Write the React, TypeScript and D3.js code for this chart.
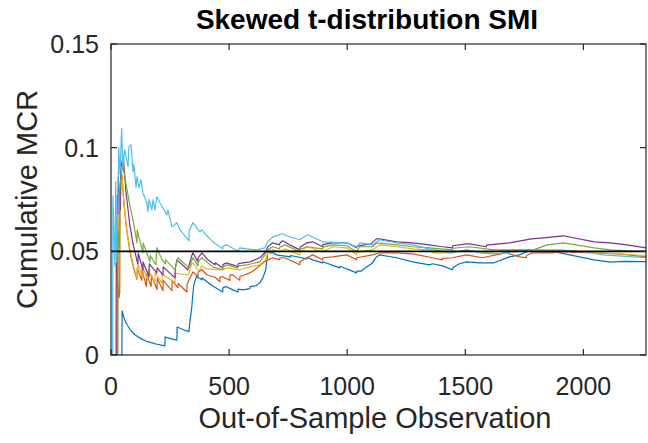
import React from 'react';
import * as d3 from 'd3';

const title = 'Skewed t-distribution SMI';
const xLabel = 'Out-of-Sample Observation';
const yLabel = 'Cumulative MCR';
const xTicks = [0, 500, 1000, 1500, 2000];
const yTicks = [0, 0.05, 0.1, 0.15];
const yTickLabels = ['0', '0.05', '0.1', '0.15'];
const xDomain = [0, 2265];
const yDomain = [0, 0.15];
const targetLevel = 0.05;

const seriesBlue: [number, number][] = [[0,0],[46,0],[47,0.0213],[55,0.0180],[65,0.0152],[80,0.0124],[100,0.0099],[125,0.0080],[150,0.0066],[190,0.0053],[228,0.0044],[229,0.0087],[255,0.0078],[279,0.0072],[280,0.0135],[305,0.0123],[330,0.0113],[333,0.0150],[337,0.0185],[342,0.0230],[347,0.0300],[351,0.0340],[355,0.0355],[364,0.0386],[368,0.0372],[376,0.0370],[385,0.0362],[386,0.0372],[406,0.0353],[431,0.0333],[473,0.0304],[474,0.0325],[486,0.0330],[516,0.0314],[537,0.0304],[538,0.0318],[558,0.0314],[588,0.0320],[589,0.0330],[615,0.0335],[630,0.0348],[643,0.0372],[655,0.0410],[659,0.0450],[664,0.0498],[672,0.0493],[685,0.0493],[700,0.0483],[760,0.0473],[761,0.0480],[829,0.0464],[830,0.0470],[854,0.0459],[896,0.0444],[897,0.0450],[968,0.0420],[969,0.0428],[1040,0.0396],[1041,0.0405],[1060,0.0405],[1082,0.0425],[1107,0.0444],[1124,0.0473],[1137,0.0483],[1209,0.0469],[1277,0.0449],[1348,0.0435],[1361,0.0440],[1403,0.0430],[1446,0.0411],[1447,0.0420],[1460,0.0430],[1475,0.0440],[1505,0.0449],[1560,0.0444],[1619,0.0444],[1687,0.0473],[1729,0.0483],[1750,0.0493],[1780,0.0507],[1830,0.0498],[1873,0.0498],[1911,0.0490],[2046,0.0459],[2114,0.0448],[2173,0.0452],[2265,0.0450]];

const seriesRed: [number, number][] = [[0,0],[21,0],[22,0.0444],[33,0.0290],[34,0.0275],[37,0.0300],[38,0.0700],[42,0.0840],[46,0.0870],[55,0.0730],[65,0.0615],[80,0.0500],[95,0.0420],[110,0.0365],[111,0.0420],[130,0.0360],[131,0.0410],[150,0.0330],[151,0.0390],[170,0.0330],[171,0.0385],[195,0.0315],[196,0.0370],[220,0.0310],[221,0.0360],[258,0.0310],[259,0.0360],[283,0.0325],[285,0.0345],[321,0.0304],[322,0.0340],[330,0.0362],[347,0.0401],[368,0.0377],[369,0.0400],[385,0.0411],[406,0.0386],[440,0.0375],[461,0.0353],[462,0.0377],[473,0.0377],[503,0.0360],[504,0.0386],[516,0.0386],[545,0.0360],[546,0.0380],[566,0.0386],[588,0.0396],[609,0.0411],[643,0.0444],[664,0.0459],[685,0.0469],[714,0.0459],[715,0.0469],[736,0.0469],[799,0.0435],[800,0.0450],[829,0.0469],[854,0.0483],[896,0.0459],[897,0.0469],[938,0.0473],[998,0.0483],[1040,0.0459],[1041,0.0469],[1107,0.0483],[1137,0.0493],[1209,0.0493],[1277,0.0488],[1361,0.0469],[1403,0.0459],[1404,0.0466],[1446,0.0469],[1505,0.0483],[1572,0.0469],[1674,0.0493],[1729,0.0473],[1758,0.0469],[1759,0.0480],[1784,0.0493],[1868,0.0493],[1902,0.0498],[2046,0.0493],[2152,0.0488],[2265,0.0473]];

const seriesYellow: [number, number][] = [[0,0],[28,0],[29,0.0690],[35,0.0570],[40,0.0800],[46,0.0860],[55,0.0730],[65,0.0620],[80,0.0510],[95,0.0430],[110,0.0370],[114,0.0440],[135,0.0370],[136,0.0420],[156,0.0360],[157,0.0410],[186,0.0350],[187,0.0400],[216,0.0345],[217,0.0390],[271,0.0350],[272,0.0395],[325,0.0386],[330,0.0395],[342,0.0440],[347,0.0444],[368,0.0410],[376,0.0411],[385,0.0430],[406,0.0415],[473,0.0411],[490,0.0420],[545,0.0411],[588,0.0425],[630,0.0435],[655,0.0460],[664,0.0493],[685,0.0507],[714,0.0498],[736,0.0512],[799,0.0483],[800,0.0495],[829,0.0522],[896,0.0498],[938,0.0522],[998,0.0517],[1040,0.0483],[1041,0.0495],[1107,0.0507],[1137,0.0531],[1209,0.0522],[1277,0.0512],[1348,0.0507],[1361,0.0493],[1446,0.0493],[1505,0.0507],[1572,0.0493],[1729,0.0507],[1788,0.0507],[1902,0.0507],[2071,0.0493],[2265,0.0480]];

const seriesPurple: [number, number][] = [[0,0],[25,0],[26,0.0770],[30,0.0680],[31,0.0860],[40,0.0700],[41,0.0900],[52,0.0960],[63,0.0790],[80,0.0625],[93,0.0538],[110,0.0455],[114,0.0440],[115,0.0493],[135,0.0410],[136,0.0449],[161,0.0377],[162,0.0440],[194,0.0396],[195,0.0420],[220,0.0386],[221,0.0425],[271,0.0372],[272,0.0420],[279,0.0459],[325,0.0411],[330,0.0430],[342,0.0480],[347,0.0493],[368,0.0449],[369,0.0470],[385,0.0493],[410,0.0459],[440,0.0435],[441,0.0445],[473,0.0420],[474,0.0435],[486,0.0444],[516,0.0435],[537,0.0425],[538,0.0440],[558,0.0444],[588,0.0449],[630,0.0469],[655,0.0498],[664,0.0522],[685,0.0541],[714,0.0531],[715,0.0540],[727,0.0551],[757,0.0531],[799,0.0507],[800,0.0520],[829,0.0541],[854,0.0546],[896,0.0522],[897,0.0532],[938,0.0541],[998,0.0541],[1040,0.0517],[1041,0.0525],[1100,0.0536],[1124,0.0560],[1137,0.0560],[1209,0.0546],[1277,0.0541],[1348,0.0531],[1403,0.0522],[1446,0.0517],[1447,0.0527],[1505,0.0536],[1518,0.0536],[1589,0.0522],[1590,0.0530],[1687,0.0541],[1780,0.0560],[1830,0.0565],[1915,0.0575],[2046,0.0546],[2114,0.0541],[2185,0.0531],[2265,0.0517]];

const seriesGreen: [number, number][] = [[0,0],[29,0],[30,0.0600],[36,0.0520],[37,0.0800],[45,0.0880],[50,0.0920],[58,0.0860],[68,0.0797],[80,0.0720],[93,0.0652],[110,0.0541],[111,0.0604],[135,0.0493],[136,0.0541],[165,0.0449],[166,0.0480],[190,0.0435],[194,0.0517],[216,0.0460],[230,0.0440],[231,0.0460],[271,0.0411],[283,0.0469],[330,0.0420],[347,0.0469],[368,0.0430],[369,0.0450],[385,0.0469],[431,0.0425],[473,0.0411],[474,0.0425],[490,0.0435],[537,0.0420],[538,0.0430],[575,0.0435],[630,0.0449],[651,0.0483],[664,0.0507],[685,0.0522],[714,0.0512],[715,0.0520],[736,0.0531],[799,0.0498],[800,0.0510],[829,0.0522],[896,0.0512],[897,0.0520],[938,0.0531],[998,0.0527],[1040,0.0498],[1053,0.0522],[1107,0.0522],[1124,0.0541],[1209,0.0531],[1277,0.0522],[1348,0.0517],[1446,0.0507],[1447,0.0515],[1518,0.0522],[1619,0.0507],[1788,0.0507],[1847,0.0531],[1915,0.0541],[2046,0.0517],[2114,0.0507],[2265,0.0498]];

const seriesCyan: [number, number][] = [[0,0],[7,0],[8,0.0768],[16,0.0440],[17,0.0430],[20,0.0836],[24,0.0470],[25,0.0470],[33,0.1000],[38,0.0870],[45,0.1092],[50,0.0910],[58,0.0990],[72,0.0908],[76,0.1005],[85,0.1014],[93,0.0884],[97,0.0918],[106,0.0807],[110,0.0860],[118,0.0807],[127,0.0845],[135,0.0783],[152,0.0734],[156,0.0691],[161,0.0749],[173,0.0700],[178,0.0749],[186,0.0700],[194,0.0763],[207,0.0734],[237,0.0676],[241,0.0700],[258,0.0618],[279,0.0638],[292,0.0604],[330,0.0550],[331,0.0600],[347,0.0638],[376,0.0594],[385,0.0604],[406,0.0575],[431,0.0546],[473,0.0512],[474,0.0525],[490,0.0531],[537,0.0502],[545,0.0517],[575,0.0512],[617,0.0507],[651,0.0517],[664,0.0546],[685,0.0570],[723,0.0585],[744,0.0575],[799,0.0556],[833,0.0580],[896,0.0546],[998,0.0541],[1040,0.0522],[1053,0.0541],[1107,0.0531],[1137,0.0556],[1209,0.0541],[1277,0.0531],[1348,0.0512],[1446,0.0493],[1505,0.0507],[1560,0.0493],[1619,0.0488],[1788,0.0507],[1911,0.0505],[2012,0.0498],[2080,0.0483],[2265,0.0470]];

const allSeries = [seriesBlue, seriesRed, seriesYellow, seriesPurple, seriesGreen, seriesCyan];
const seriesColors = ['#0072BD', '#D95319', '#EDB120', '#7E2F8E', '#77AC30', '#4DBEEE'];

const W = 648;
const H = 443;
const M = { left: 111, right: 2, top: 44, bottom: 88 };

export default function App() {
  const x = d3.scaleLinear().domain(xDomain).range([M.left, W - M.right]);
  const y = d3.scaleLinear().domain(yDomain).range([H - M.bottom, M.top]);
  const line = d3.line<[number, number]>().x(d => x(d[0])).y(d => y(d[1]));
  const axisColor = '#262626';
  const font = "'Liberation Sans', Arial, Helvetica, sans-serif";
  const x0 = x(xDomain[0]);
  const x1 = x(xDomain[1]);
  const y0 = y(yDomain[0]);
  const y1 = y(yDomain[1]);
  const tl = 6;
  return (
    <svg width={W} height={H} style={{ position: 'absolute', left: 0, top: 0, background: '#fff' }}>
      <defs>
        <clipPath id="plotclip">
          <rect x={x0} y={y1} width={x1 - x0} height={y0 - y1} />
        </clipPath>
      </defs>
      <rect x={0} y={0} width={W} height={H} fill="#fff" />
      <g clipPath="url(#plotclip)">
        {allSeries.map((s, i) => (
          <path key={i} d={line(s) || ''} fill="none" stroke={seriesColors[i]} strokeWidth={1.2} strokeLinejoin="round" />
        ))}
        <line x1={x0} x2={x1} y1={y(targetLevel)} y2={y(targetLevel)} stroke="#000" strokeWidth={1.6} />
      </g>
      <g stroke={axisColor} strokeWidth={1.2} fill="none">
        <rect x={x0} y={y1} width={x1 - x0} height={y0 - y1} />
        {xTicks.map(t => (
          <g key={'xt' + t}>
            <line x1={x(t)} x2={x(t)} y1={y0} y2={y0 - tl} />
            <line x1={x(t)} x2={x(t)} y1={y1} y2={y1 + tl} />
          </g>
        ))}
        {yTicks.map(t => (
          <g key={'yt' + t}>
            <line x1={x0} x2={x0 + tl} y1={y(t)} y2={y(t)} />
            <line x1={x1} x2={x1 - tl} y1={y(t)} y2={y(t)} />
          </g>
        ))}
      </g>
      <g fill={axisColor} fontFamily={font} fontSize={25}>
        {xTicks.map(t => (
          <text key={'xl' + t} x={x(t)} y={395} textAnchor="middle">{String(t)}</text>
        ))}
        {yTicks.map((t, i) => (
          <text key={'yl' + t} x={x0 - 12} y={y(t) + 9} textAnchor="end">{yTickLabels[i]}</text>
        ))}
      </g>
      <text x={375} y={428} textAnchor="middle" fontFamily={font} fontSize={29} fill={axisColor}>{xLabel}</text>
      <text transform={`translate(37,${(y0 + y1) / 2}) rotate(-90)`} textAnchor="middle" fontFamily={font} fontSize={29} fill={axisColor}>{yLabel}</text>
      <text x={367} y={29} textAnchor="middle" fontFamily={font} fontSize={28} fontWeight="bold" fill="#000">{title}</text>
    </svg>
  );
}
